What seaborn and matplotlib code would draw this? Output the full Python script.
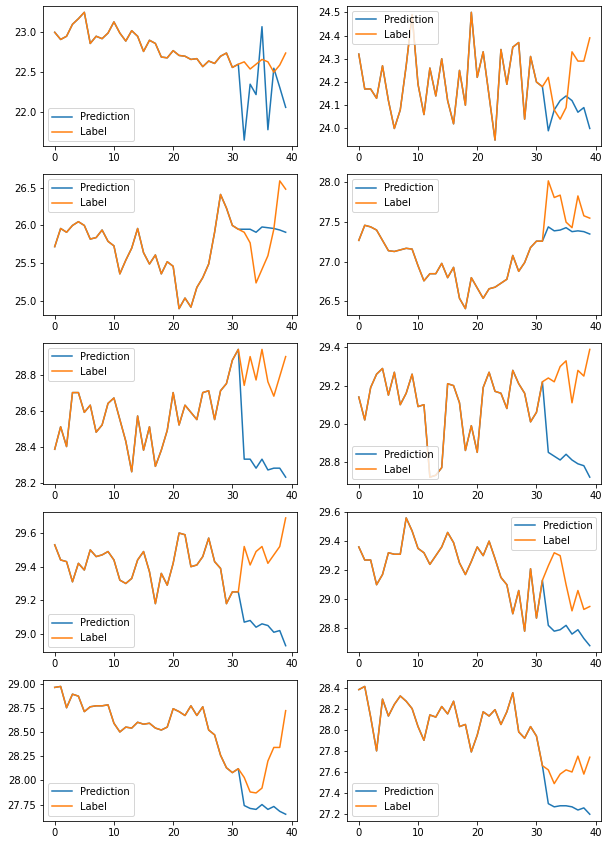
import matplotlib
matplotlib.use("Agg")
import matplotlib.pyplot as plt
from matplotlib.ticker import MultipleLocator
import seaborn as sns
import pandas as pd

steps = list(range(40))
split_at = 32  # prediction follows label up to index 31

label_1 = [23.00, 22.91, 22.95, 23.10, 23.17, 23.25, 22.86, 22.95, 22.92, 22.99,
           23.13, 22.99, 22.89, 23.02, 22.95, 22.76, 22.90, 22.86, 22.69, 22.68,
           22.77, 22.71, 22.70, 22.66, 22.67, 22.57, 22.64, 22.61, 22.70, 22.74,
           22.56, 22.60, 22.63, 22.54, 22.60, 22.66, 22.63, 22.50, 22.59, 22.74]
pred_tail_1 = [21.65, 22.35, 22.22, 23.07, 21.78, 22.55, 22.31, 22.06]

label_2 = [24.32, 24.17, 24.17, 24.13, 24.27, 24.12, 24.00, 24.08, 24.27, 24.49,
           24.19, 24.06, 24.26, 24.14, 24.30, 24.12, 24.02, 24.25, 24.10, 24.50,
           24.22, 24.33, 24.14, 23.95, 24.34, 24.19, 24.35, 24.37, 24.04, 24.31,
           24.20, 24.18, 24.22, 24.08, 24.04, 24.09, 24.33, 24.29, 24.29, 24.39]
pred_tail_2 = [23.99, 24.08, 24.12, 24.14, 24.12, 24.07, 24.09, 24.00]

label_3 = [25.72, 25.96, 25.91, 26.00, 26.05, 26.00, 25.82, 25.84, 25.94, 25.79,
           25.73, 25.36, 25.54, 25.70, 25.96, 25.64, 25.49, 25.61, 25.36, 25.52,
           25.46, 24.90, 25.04, 24.92, 25.18, 25.31, 25.49, 25.91, 26.41, 26.23,
           26.00, 25.95, 25.91, 25.77, 25.24, 25.42, 25.60, 25.95, 26.59, 26.48]
pred_tail_3 = [25.95, 25.95, 25.91, 25.98, 25.97, 25.96, 25.94, 25.91]

label_4 = [27.27, 27.46, 27.44, 27.40, 27.27, 27.14, 27.13, 27.15, 27.17, 27.16,
           26.95, 26.76, 26.85, 26.85, 26.98, 26.80, 26.93, 26.54, 26.41, 26.80,
           26.67, 26.54, 26.66, 26.68, 26.73, 26.78, 27.08, 26.88, 26.99, 27.18,
           27.26, 27.26, 28.02, 27.81, 27.84, 27.50, 27.43, 27.83, 27.58, 27.55]
pred_tail_4 = [27.44, 27.39, 27.40, 27.43, 27.38, 27.39, 27.38, 27.35]

label_5 = [28.385, 28.51, 28.40, 28.70, 28.70, 28.59, 28.63, 28.48, 28.52, 28.64,
           28.67, 28.55, 28.43, 28.26, 28.57, 28.38, 28.51, 28.29, 28.38, 28.49,
           28.70, 28.52, 28.63, 28.59, 28.55, 28.70, 28.71, 28.55, 28.71, 28.75,
           28.88, 28.94, 28.74, 28.90, 28.77, 28.94, 28.76, 28.68, 28.79, 28.90]
pred_tail_5 = [28.33, 28.33, 28.28, 28.33, 28.27, 28.28, 28.28, 28.23]

label_6 = [29.14, 29.02, 29.19, 29.26, 29.29, 29.15, 29.27, 29.10, 29.16, 29.26,
           29.09, 29.10, 28.72, 28.73, 28.77, 29.21, 29.20, 29.11, 28.86, 28.99,
           28.85, 29.19, 29.27, 29.17, 29.16, 29.08, 29.28, 29.21, 29.16, 29.01,
           29.06, 29.22, 29.24, 29.22, 29.30, 29.33, 29.11, 29.28, 29.25, 29.39]
pred_tail_6 = [28.85, 28.83, 28.81, 28.84, 28.81, 28.79, 28.78, 28.72]

label_7 = [29.53, 29.44, 29.43, 29.31, 29.42, 29.38, 29.50, 29.46, 29.47, 29.49,
           29.44, 29.32, 29.30, 29.33, 29.44, 29.49, 29.37, 29.18, 29.36, 29.29,
           29.42, 29.60, 29.59, 29.40, 29.41, 29.46, 29.57, 29.43, 29.39, 29.18,
           29.25, 29.25, 29.52, 29.41, 29.49, 29.52, 29.42, 29.47, 29.52, 29.69]
pred_tail_7 = [29.07, 29.08, 29.04, 29.06, 29.05, 29.01, 29.02, 28.93]

label_8 = [29.36, 29.27, 29.27, 29.10, 29.17, 29.32, 29.31, 29.31, 29.56, 29.47,
           29.35, 29.32, 29.24, 29.30, 29.36, 29.46, 29.39, 29.25, 29.17, 29.26,
           29.36, 29.30, 29.40, 29.28, 29.15, 29.10, 28.90, 29.06, 28.78, 29.21,
           28.87, 29.13, 29.23, 29.32, 29.30, 29.10, 28.92, 29.06, 28.93, 28.95]
pred_tail_8 = [28.82, 28.78, 28.79, 28.82, 28.76, 28.79, 28.73, 28.68]

label_9 = [28.96, 28.97, 28.75, 28.89, 28.87, 28.71, 28.76, 28.77, 28.77, 28.78,
           28.59, 28.50, 28.55, 28.54, 28.60, 28.58, 28.59, 28.54, 28.52, 28.55,
           28.74, 28.71, 28.67, 28.77, 28.67, 28.76, 28.52, 28.47, 28.26, 28.13,
           28.08, 28.12, 28.03, 27.88, 27.87, 27.92, 28.20, 28.34, 28.34, 28.72]
pred_tail_9 = [27.74, 27.71, 27.70, 27.75, 27.70, 27.73, 27.68, 27.65]

label_10 = [28.38, 28.41, 28.12, 27.80, 28.29, 28.13, 28.24, 28.32, 28.27, 28.20,
            28.03, 27.90, 28.14, 28.12, 28.22, 28.15, 28.27, 28.03, 28.05, 27.79,
            27.95, 28.17, 28.13, 28.19, 28.05, 28.17, 28.35, 27.98, 27.92, 28.03,
            27.94, 27.66, 27.62, 27.49, 27.58, 27.62, 27.60, 27.75, 27.58, 27.74]
pred_tail_10 = [27.30, 27.27, 27.28, 27.28, 27.27, 27.24, 27.26, 27.20]

labels = [label_1, label_2, label_3, label_4, label_5,
          label_6, label_7, label_8, label_9, label_10]
pred_tails = [pred_tail_1, pred_tail_2, pred_tail_3, pred_tail_4, pred_tail_5,
              pred_tail_6, pred_tail_7, pred_tail_8, pred_tail_9, pred_tail_10]
legend_locs = ["lower left", "upper left", "upper left", "upper left", "upper left",
               "lower left", "lower left", "upper right", "lower left", "lower left"]
ytick_steps = [0.5, 0.1, 0.5, 0.5, 0.2, 0.2, 0.2, 0.2, 0.25, 0.2]

DPI = 72
fig, axes = plt.subplots(5, 2, figsize=(608 / DPI, 846 / DPI), dpi=DPI)
fig.subplots_adjust(left=0.071, right=0.989, top=0.993, bottom=0.030,
                    wspace=0.197, hspace=0.199)

for k, ax in enumerate(axes.flat):
    lab = labels[k]
    pred = lab[:split_at] + pred_tails[k]
    df = pd.DataFrame({"step": steps, "Prediction": pred, "Label": lab})
    sns.lineplot(data=df, x="step", y="Prediction", ax=ax, color="#1f77b4",
                 label="Prediction", linewidth=1.5)
    sns.lineplot(data=df, x="step", y="Label", ax=ax, color="#ff7f0e",
                 label="Label", linewidth=1.5)
    ax.set_xlabel("")
    ax.set_ylabel("")
    ax.set_xticks([0, 10, 20, 30, 40])
    ax.yaxis.set_major_locator(MultipleLocator(ytick_steps[k]))
    ax.legend(loc=legend_locs[k], fontsize=10)

fig.savefig("out.png", dpi=DPI)
